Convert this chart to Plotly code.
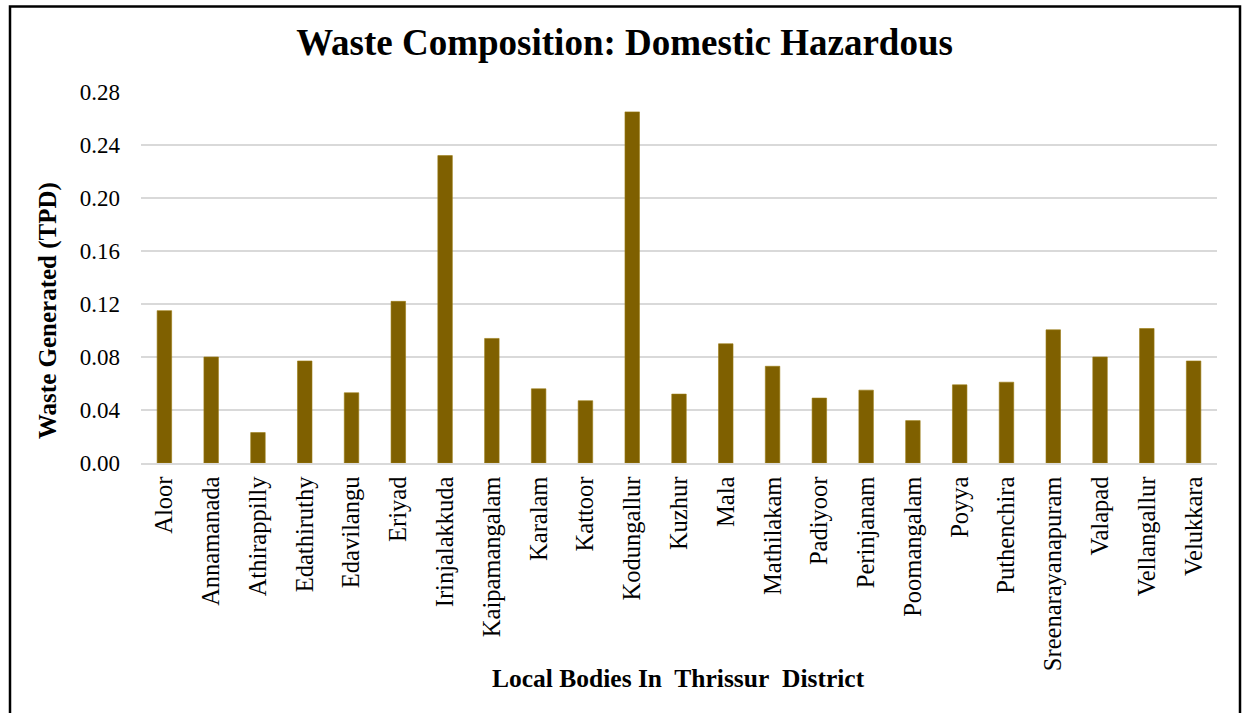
import plotly.graph_objects as go

local_bodies = ["Aloor", "Annamanada", "Athirappilly", "Edathiruthy", "Edavilangu", "Eriyad",
                "Irinjalakkuda", "Kaipamangalam", "Karalam", "Kattoor", "Kodungallur", "Kuzhur",
                "Mala", "Mathilakam", "Padiyoor", "Perinjanam", "Poomangalam", "Poyya",
                "Puthenchira", "Sreenarayanapuram", "Valapad", "Vellangallur", "Velukkara"]
waste_tpd = [0.115, 0.080, 0.023, 0.077, 0.053, 0.122,
             0.232, 0.094, 0.056, 0.047, 0.265, 0.052,
             0.090, 0.073, 0.049, 0.055, 0.032, 0.059,
             0.061, 0.1005, 0.080, 0.1015, 0.077]
y_ticks = [0.00, 0.04, 0.08, 0.12, 0.16, 0.20, 0.24, 0.28]
y_tick_text = ["0.00", "0.04", "0.08", "0.12", "0.16", "0.20", "0.24", "0.28"]

title_text = "Waste Composition: Domestic Hazardous"
x_title = "Local Bodies In\u00a0 Thrissur\u00a0 District"
y_title = "Waste Generated (TPD)"

FONT = "Liberation Serif, Times New Roman, serif"
W, H = 1244, 713
L, R, T, B = 141, 27, 92, 250
pw, ph = W - L - R, H - T - B

def px(x):
    return (x - L) / pw

def py(y):
    return 1 - (y - T) / ph

fig = go.Figure(go.Bar(
    x=local_bodies, y=waste_tpd,
    marker=dict(color="#7F6000", line=dict(color="#9a7a10", width=0.6)),
))

fig.update_layout(
    width=W, height=H,
    margin=dict(l=L, r=R, t=T, b=B, autoexpand=False),
    paper_bgcolor="white", plot_bgcolor="white",
    font=dict(family=FONT, color="black"),
    bargap=0.69,
    showlegend=False,
    title=dict(text="<b>" + title_text + "</b>", x=624.5 / W, xanchor="center",
               y=1 - 42 / H, yanchor="middle", yref="container",
               font=dict(size=37, family=FONT, color="black")),
    xaxis=dict(showgrid=False, showline=True, linecolor="#d9d9d9", linewidth=1.6,
               tickangle=-90, tickfont=dict(size=24.5, family=FONT, color="black"),
               ticks="", ticklabelstandoff=2, fixedrange=True),
    yaxis=dict(range=[0, 0.28], tickvals=y_ticks, ticktext=y_tick_text,
               showgrid=True, gridcolor="#d9d9d9", gridwidth=1.6,
               zeroline=False, showline=False, ticks="",
               tickfont=dict(size=23, family=FONT, color="black"),
               ticklabelstandoff=20, fixedrange=True),
    annotations=[
        dict(text="<b>" + x_title + "</b>", xref="paper", yref="paper",
             x=px(678), y=py(678), xanchor="center", yanchor="middle",
             showarrow=False, font=dict(size=25.5, family=FONT, color="black")),
        dict(text="<b>" + y_title + "</b>", xref="paper", yref="paper",
             x=px(48), y=py(311), xanchor="center", yanchor="middle", textangle=-90,
             showarrow=False, font=dict(size=25, family=FONT, color="black")),
    ],
    shapes=[
        dict(type="rect", xref="paper", yref="paper",
             x0=px(10), x1=px(1240), y0=py(730), y1=py(6.5),
             line=dict(color="black", width=2.5), fillcolor="rgba(0,0,0,0)", layer="above"),
    ],
)

fig.write_html("out.html", config={"displayModeBar": False},
               post_script="document.body.style.margin='0';document.body.style.overflow='hidden';")
